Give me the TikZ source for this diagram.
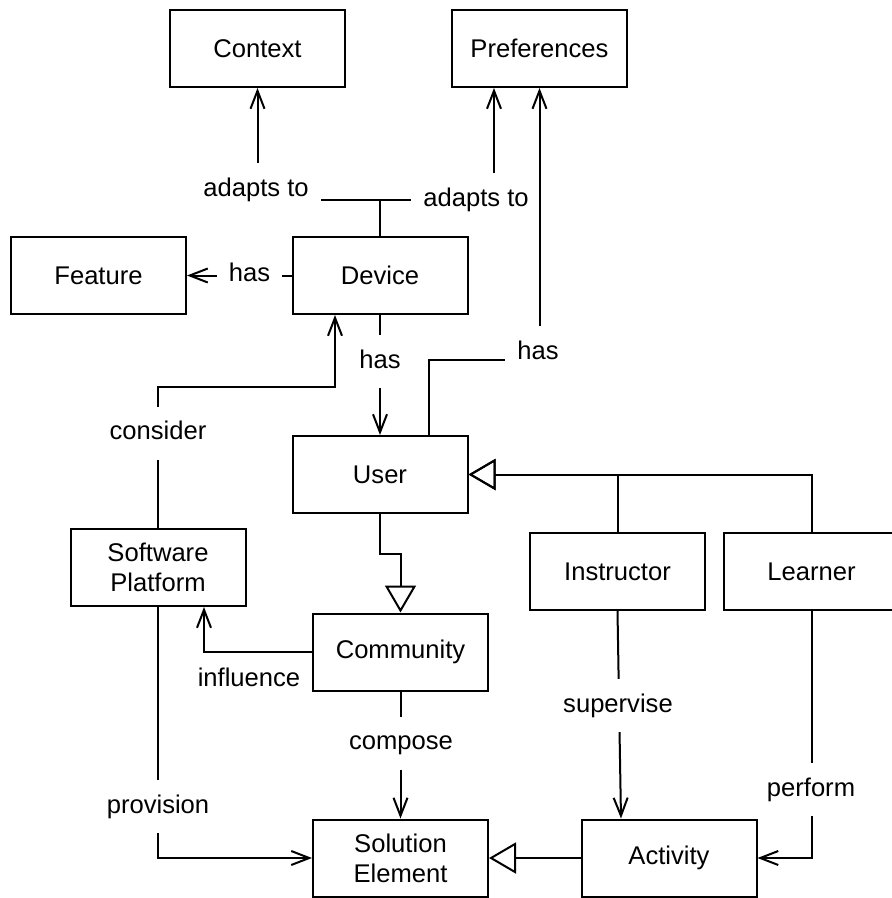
\documentclass[tikz,border=0pt]{standalone}
\usepackage{fontspec}
\setmainfont{Liberation Sans}
\usetikzlibrary{arrows.meta}

\begin{document}
\begin{tikzpicture}[x=1pt, y=-1pt, line width=2pt,
  box/.style={draw, minimum width=175pt, minimum height=77pt, align=center, font=\fontsize{25.6pt}{30pt}\selectfont},
  lbl/.style={fill=white, inner xsep=12pt, inner ysep=15pt, text height=18pt, text depth=5pt, font=\fontsize{25.6pt}{30pt}\selectfont},
  assoc/.style={-{Straight Barb[length=18pt,width=14pt]}},
  gen/.style={-{Triangle[open,length=27pt,width=31pt]}}]
\useasboundingbox (0,0) rectangle (892,898); %page

%classes
\node[box] (ctx) at (257.5,48.5) {Context};
\node[box] (pref) at (539.5,48.5) {Preferences};
\node[box] (feat) at (98.5,275.5) {Feature};
\node[box] (dev) at (380,275.5) {Device};
\node[box] (user) at (380,474.5) {User};
\node[box] (sw) at (158,567.5) {Software\\Platform};
\node[box] (instr) at (617.5,571.5) {Instructor};
\node[box] (learn) at (811.5,571.5) {Learner};
\node[box] (comm) at (400.5,652) {Community};
\node[box] (sol) at (400.5,858) {Solution\\Element};
\node[box] (act) at (669,858) {Activity};

%associations
\draw[assoc] (dev.north) -- ++(0,-36) -| (ctx.south);
\draw[assoc] (dev.north) -- ++(0,-36) -| ([xshift=-45.5pt]pref.south);
\draw[assoc] (dev.west) -- (feat.east);
\draw[assoc] (dev.south) -- (user.north);
\draw[assoc] (sw.north) -- ++(0,-141) -| ([xshift=-45pt]dev.south);
\draw[assoc] (comm.west) -| ([xshift=46pt]sw.south);
\draw[assoc] (sw.south) |- (sol.west);
\draw[assoc] (comm.south) -- (sol.north);
\draw[assoc] (instr.south) -- ([xshift=-48pt]act.north);
\draw[assoc] (learn.south) |- (act.east);

%generalisations
\draw[gen] (user.south) -- ++(0,40) -| (comm.north);
\draw[gen] (instr.north) |- (user.east);
\draw[gen] (learn.north) |- (user.east);
\draw[gen] (act.west) -- (sol.east);

%labels
\node[lbl] (l1) at (256,189.5) {adapts to};
\node[lbl] (l2) at (476,199.5) {adapts to};
\node[lbl] (l3) at (249.5,275) {has};
\node[lbl] (l4) at (380,361.5) {has};
\node[lbl] (l6) at (158,433) {consider};
\node[lbl, fill=none] (l7) at (249,680) {influence};
\node[lbl] (l8) at (158,806.5) {provision};
\node[lbl] (l9) at (401,743) {compose};
\node[lbl] (l10) at (618,705.5) {supervise};
\node[lbl] (l11) at (811,789.5) {perform};

%user has preferences, passes beside l2
\draw[assoc] ([xshift=49pt]user.north) -- ++(0,-75) -| (pref.south);
\node[lbl] (l5) at (538,352.5) {has};
\end{tikzpicture}
\end{document}
